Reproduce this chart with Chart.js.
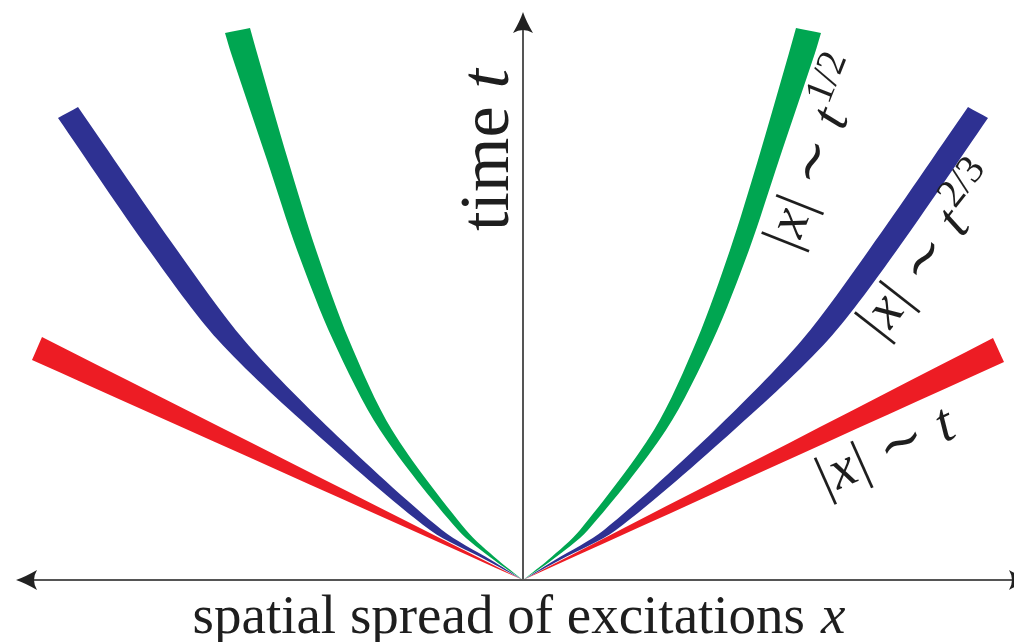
<!DOCTYPE html>
<html><head><meta charset="utf-8">
<script src="https://cdn.jsdelivr.net/npm/chart.js@4.4.1/dist/chart.umd.min.js"></script>
<style>html,body{margin:0;padding:0;background:#fff;overflow:hidden}</style>
</head><body>
<canvas id="c" width="1014" height="642"></canvas>
<script>
// ---- data (x = spatial spread, t = time), edges of each band ----
// green band |x| ~ t^(1/2)
const greenInnerT = [0, 0.4, 1.0, 3.0, 4.8, 6.6, 8.4, 10.54, 11.04];
const greenInnerX = [0, 0.50, 1.14, 2.62, 3.48, 4.14, 4.70, 5.32, 5.46];
const greenOuterT = [0, 0.4, 1.0, 3.0, 4.8, 6.6, 8.4, 10.54, 10.94];
const greenOuterX = [0, 0.58, 1.30, 2.86, 3.80, 4.52, 5.12, 5.84, 5.96];
// blue band |x| ~ t^(2/3)
const blueInnerT = [0, 0.4, 1.0, 3.0, 4.8, 6.6, 9.46];
const blueInnerX = [0, 0.64, 1.62, 3.84, 5.58, 6.92, 8.90];
const blueOuterT = [0, 0.4, 1.0, 3.0, 4.8, 6.6, 9.24];
const blueOuterX = [0, 0.74, 1.86, 4.22, 6.10, 7.48, 9.30];
// red band |x| ~ t (right and left)
const redInnerT = [0, 4.84];
const redInnerX = [0, 9.40];
const redOuterT = [0, 4.36];
const redOuterX = [0, 9.62];
const redLeftInnerT = [0, 4.86];
const redLeftInnerX = [0, -9.62];
const redLeftOuterT = [0, 4.40];
const redLeftOuterX = [0, -9.82];

const X_MIN = -10.14, X_MAX = 9.82, X_ARROW = 10.14, T_MAX = 11.36;

const GREEN = '#00A651', BLUE = '#2E3192', RED = '#ED1C24';
const FAM = "'Liberation Serif','DejaVu Serif',serif";

// closed outline: inner edge up, square cap, outer edge down (cap corners repeated to keep them sharp)
function band(inT, inX, outT, outX, sign) {
  const pts = [];
  for (let i = 0; i < inT.length; i++) pts.push({x: sign * inX[i], y: inT[i]});
  pts.push({x: sign * inX[inX.length - 1], y: inT[inT.length - 1]});
  const o = outT.length - 1;
  pts.push({x: sign * outX[o], y: outT[o]});
  for (let i = o; i >= 0; i--) pts.push({x: sign * outX[i], y: outT[i]});
  return pts;
}
function ds(pts, col) {
  return {data: pts, showLine: true, fill: 'shape', backgroundColor: col, borderColor: col,
          borderWidth: 0, pointRadius: 0, tension: 0.3};
}

function arrowHead(ctx, x, y, ang) {
  ctx.save();
  ctx.translate(x, y); ctx.rotate(ang);
  ctx.beginPath();
  ctx.moveTo(0, 0);
  ctx.quadraticCurveTo(-9, -3, -21, -10);
  ctx.quadraticCurveTo(-15, 0, -21, 10);
  ctx.quadraticCurveTo(-9, 3, 0, 0);
  ctx.closePath();
  ctx.fillStyle = '#222';
  ctx.fill();
  ctx.restore();
}

const axesPlugin = {
  id: 'axesArrows',
  beforeDatasetsDraw(chart) {
    const ctx = chart.ctx, xs = chart.scales.x, ys = chart.scales.y;
    const ox = xs.getPixelForValue(0), oy = ys.getPixelForValue(0);
    const xl = xs.getPixelForValue(-X_ARROW), xr = xs.getPixelForValue(X_ARROW);
    const yt = ys.getPixelForValue(T_MAX);
    ctx.save();
    ctx.strokeStyle = '#555'; ctx.lineWidth = 2;
    ctx.beginPath();
    ctx.moveTo(xl + 10, oy); ctx.lineTo(xr - 10, oy);
    ctx.moveTo(ox, oy); ctx.lineTo(ox, yt + 10);
    ctx.stroke();
    ctx.restore();
    arrowHead(ctx, xl, oy, Math.PI);
    arrowHead(ctx, xr, oy, 0);
    arrowHead(ctx, ox, yt, -Math.PI / 2);
  }
};

function drawRuns(ctx, runs, cx, cy, angDeg, base) {
  ctx.save();
  ctx.translate(cx, cy);
  ctx.rotate(angDeg * Math.PI / 180);
  let total = 0;
  runs.forEach(r => { ctx.font = r.f; r.w = ctx.measureText(r.t).width; total += r.w + (r.g || 0); });
  let x = -total / 2;
  ctx.textBaseline = 'alphabetic';
  ctx.textAlign = 'left';
  ctx.fillStyle = '#1e1e1e';
  runs.forEach(r => { x += (r.g || 0); ctx.font = r.f; ctx.fillText(r.t, x, base - (r.dy || 0)); x += r.w; });
  ctx.restore();
}
function mathLabel(S, sup) {
  const up = `${S}px ${FAM}`, it = `italic ${S}px ${FAM}`, sm = `${Math.round(S * 0.72)}px ${FAM}`;
  const runs = [
    {t: '|', f: up}, {t: 'x', f: it, g: 2}, {t: '|', f: up, g: 2},
    {t: '\u223C', f: up, g: S * 0.28}, {t: 't', f: it, g: S * 0.28}
  ];
  if (sup) runs.push({t: sup, f: sm, dy: S * 0.42, g: S * 0.06});
  return runs;
}

const labelsPlugin = {
  id: 'labels',
  afterDraw(chart) {
    const ctx = chart.ctx;
    const S = 56;
    drawRuns(ctx, mathLabel(S, '1/2'), 814, 152, -68.5, S * 0.35);
    drawRuns(ctx, mathLabel(S, '2/3'), 928, 250, -52, S * 0.35);
    drawRuns(ctx, mathLabel(S, null), 884, 448, -24, S * 0.35);
    drawRuns(ctx, [{t: 'time', f: `70px ${FAM}`}, {t: 't', f: `italic 70px ${FAM}`, g: 18}], 508, 150, -90, 0);
    drawRuns(ctx, [{t: 'spatial spread of excitations', f: `55px ${FAM}`}, {t: 'x', f: `italic 55px ${FAM}`, g: 16}], 519, 633, 0, 0);
  }
};

new Chart(document.getElementById('c'), {
  type: 'scatter',
  data: {
    datasets: [
      ds(band(greenInnerT, greenInnerX, greenOuterT, greenOuterX, 1), GREEN),
      ds(band(greenInnerT, greenInnerX, greenOuterT, greenOuterX, -1), GREEN),
      ds(band(blueInnerT, blueInnerX, blueOuterT, blueOuterX, 1), BLUE),
      ds(band(blueInnerT, blueInnerX, blueOuterT, blueOuterX, -1), BLUE),
      ds(band(redInnerT, redInnerX, redOuterT, redOuterX, 1), RED),
      ds(band(redLeftInnerT, redLeftInnerX, redLeftOuterT, redLeftOuterX, 1), RED)
    ]
  },
  options: {
    responsive: false, animation: false, events: [],
    layout: {padding: {left: 16, right: 0, top: 12, bottom: 62}},
    scales: {
      x: {type: 'linear', min: X_MIN, max: X_MAX, display: false},
      y: {type: 'linear', min: 0, max: T_MAX, display: false}
    },
    plugins: {legend: {display: false}, tooltip: {enabled: false}}
  },
  plugins: [axesPlugin, labelsPlugin]
});
</script>
</body></html>
